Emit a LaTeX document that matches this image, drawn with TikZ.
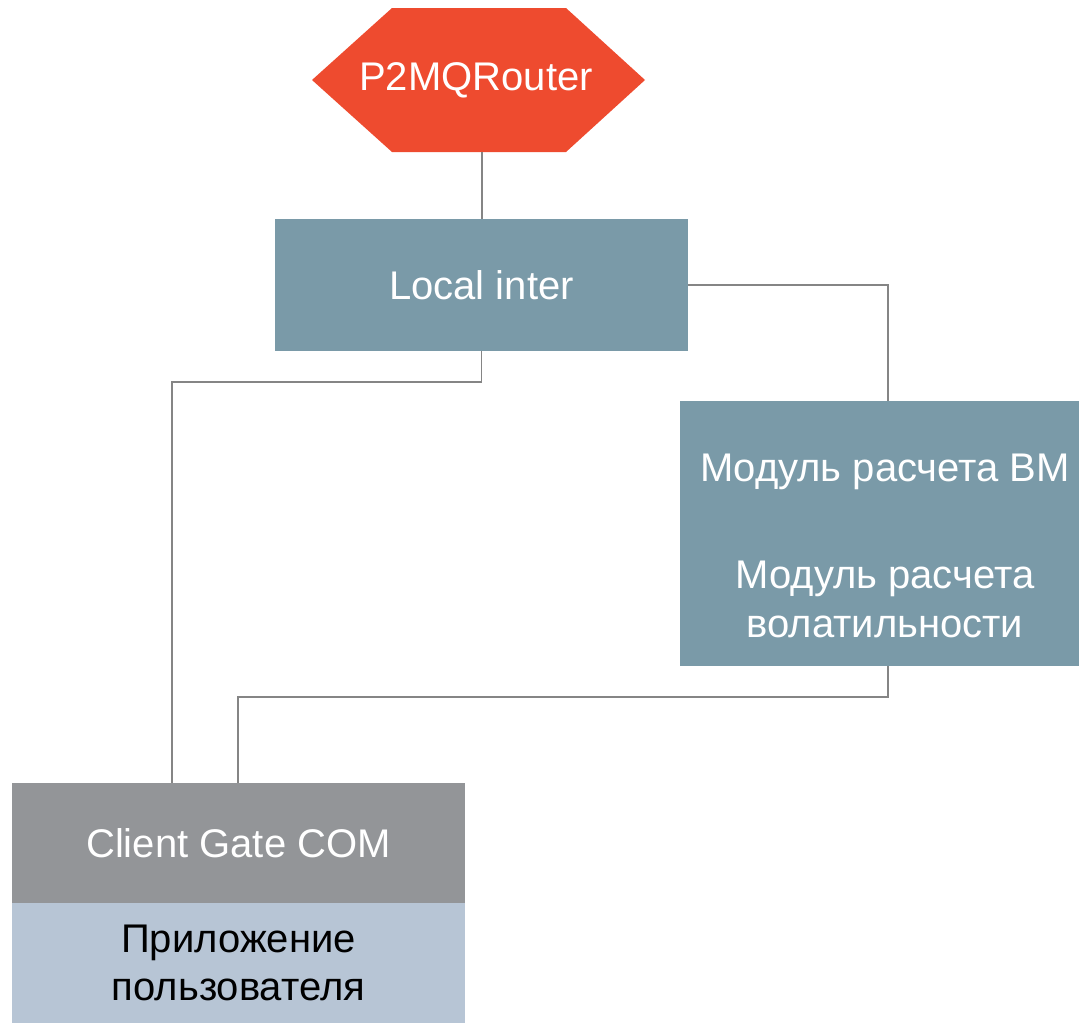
\documentclass[tikz,border=0pt]{standalone}
\usepackage{fontspec}
\setmainfont{Liberation Sans}
\usetikzlibrary{calc}
\definecolor{hexred}{HTML}{EE4B2F}
\definecolor{boxteal}{HTML}{7A9AA8}
\definecolor{boxgray}{HTML}{939598}
\definecolor{boxlight}{HTML}{B7C5D5}
\definecolor{wire}{HTML}{858585}
\tikzset{
  blk/.style={rectangle, inner sep=0pt, align=center, text=white,
    font=\fontsize{40}{49}\selectfont},
  conn/.style={draw=wire, line width=1.6pt},
}
\begin{document}
\begin{tikzpicture}[x=1pt, y=-1pt]
\useasboundingbox (0,0) rectangle (1079,1023);
% hexagon
\fill[hexred] (392,8) -- (566,8) -- (645,80) -- (566,152) -- (392,152) -- (312,80) -- cycle;
\node[blk, minimum width=200pt, minimum height=144pt] (router) at (476,80) {P2MQRouter};
% boxes
\node[blk, fill=boxteal, minimum width=413pt, minimum height=132pt] (local) at (481.5,285) {Local inter};
\node[blk, fill=boxteal, minimum width=399pt, minimum height=265pt] (module) at (879.5,533.5) {};
\node[blk] (modtext) at (885,546) {Модуль расчета ВМ\\[58pt]Модуль расчета\\волатильности};
\node[blk, fill=boxgray, minimum width=453pt, minimum height=120pt] (cg) at (238.5,843) {Client Gate COM};
\node[blk, fill=boxlight, text=black, minimum width=453pt, minimum height=120pt, font=\fontsize{40}{48}\selectfont] (app) at (238.5,963) {Приложение\\пользователя};
% connectors
\draw[conn] ([xshift=6pt]router.south) -- ([xshift=6pt]router.south |- local.north);
\draw[conn] (local.east) -| ([xshift=8.5pt]module.north);
\draw[conn] (local.south) -- ++(0,31) -| ([xshift=-66.5pt]cg.north);
\draw[conn] ([xshift=8.5pt]module.south) -- ++(0,31) -| ([xshift=-0.5pt]cg.north);
\end{tikzpicture}
\end{document}
